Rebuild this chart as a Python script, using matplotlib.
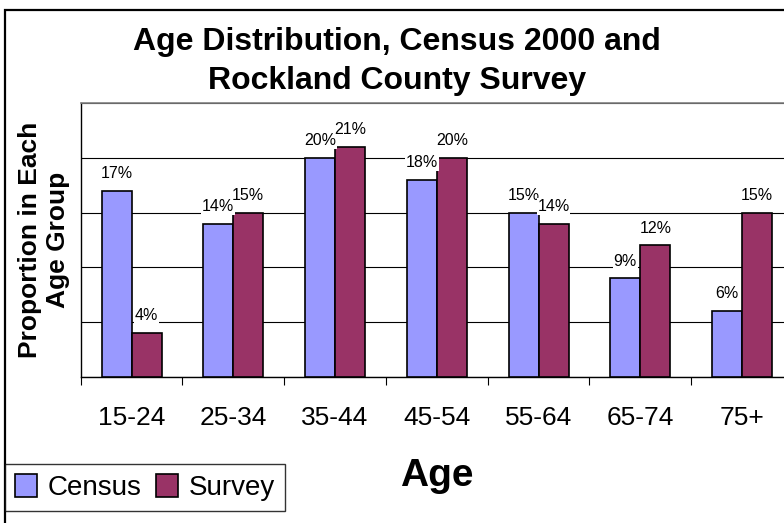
import matplotlib
matplotlib.use("Agg")
import matplotlib.pyplot as plt
from matplotlib.patches import Rectangle
import numpy as np

plt.rcParams['font.family'] = ['Liberation Sans', 'DejaVu Sans']

# Age distribution data (percent of population in each group)
age_groups = ['15-24', '25-34', '35-44', '45-54', '55-64', '65-74', '75+']
census = [17, 14, 20, 18, 15, 9, 6]
survey = [4, 15, 21, 20, 14, 12, 15]

census_color = '#9999FF'
survey_color = '#993366'

fig = plt.figure(figsize=(7.84, 5.23), dpi=100)
fig.patch.set_facecolor('white')

# plot area runs a little past the right edge of the chart
ax = fig.add_axes([0.1029, 0.2792, 0.9085, 0.5239])

x = np.arange(len(age_groups))
w = 0.295
b1 = ax.bar(x - w / 2, census, w, color=census_color, edgecolor='black',
            linewidth=1.2, label='Census', zorder=3)
b2 = ax.bar(x + w / 2, survey, w, color=survey_color, edgecolor='black',
            linewidth=1.2, label='Survey', zorder=3)

lbl_box = dict(facecolor='white', edgecolor='none', pad=0.6)
ax.bar_label(b1, labels=[f"{v}%" for v in census], padding=7, fontsize=11.5,
             bbox=lbl_box, zorder=4)
ax.bar_label(b2, labels=[f"{v}%" for v in survey], padding=7, fontsize=11.5,
             bbox=lbl_box, zorder=4)

ax.set_xlim(-0.5, len(age_groups) - 0.5)
ax.set_ylim(0, 25)

# horizontal gridlines every 5%, no y tick labels
ax.set_yticks([0, 5, 10, 15, 20, 25])
ax.set_yticklabels([])
ax.tick_params(axis='y', length=0)
ax.grid(axis='y', color='black', linewidth=0.8)
ax.set_axisbelow(True)

# tick marks between categories, labels centred under each group
ax.set_xticks(np.arange(-0.5, len(age_groups) + 0.5, 1))
ax.set_xticklabels([])
ax.set_xticks(x, minor=True)
ax.set_xticklabels(age_groups, minor=True, fontsize=19)
ax.tick_params(axis='x', which='major', length=6, width=0.8, direction='out')
ax.tick_params(axis='x', which='minor', length=0, pad=21)

for side in ['left', 'bottom']:
    ax.spines[side].set_color('black')
    ax.spines[side].set_linewidth(1.0)
ax.spines['top'].set_color('#808080')
ax.spines['top'].set_linewidth(1.2)
ax.spines['right'].set_color('#808080')

ax.set_xlabel('Age', fontsize=28, fontweight='bold', labelpad=20)
ax.set_ylabel('Proportion in Each\nAge Group', fontsize=19, fontweight='bold',
              labelpad=4, linespacing=1.25)

fig.text(0.506, 0.882, 'Age Distribution, Census 2000 and\nRockland County Survey',
         ha='center', va='center', fontsize=23, fontweight='bold',
         linespacing=1.4)

leg = fig.legend(loc='lower left', bbox_to_anchor=(5 / 784, 1 - 511 / 523),
                 ncol=2, fontsize=20, frameon=True, fancybox=False,
                 borderpad=0.35, handlelength=0.8, handleheight=0.9,
                 handletextpad=0.4, columnspacing=0.5, borderaxespad=0)
leg.get_frame().set_edgecolor('black')
leg.get_frame().set_linewidth(1.0)

# outer chart border
fig.patches.append(Rectangle((5 / 784, -0.1), 1.2, 1.1 - 10 / 523,
                             transform=fig.transFigure, fill=False,
                             edgecolor='black', linewidth=1.6))

fig.savefig('out.png', dpi=100)
